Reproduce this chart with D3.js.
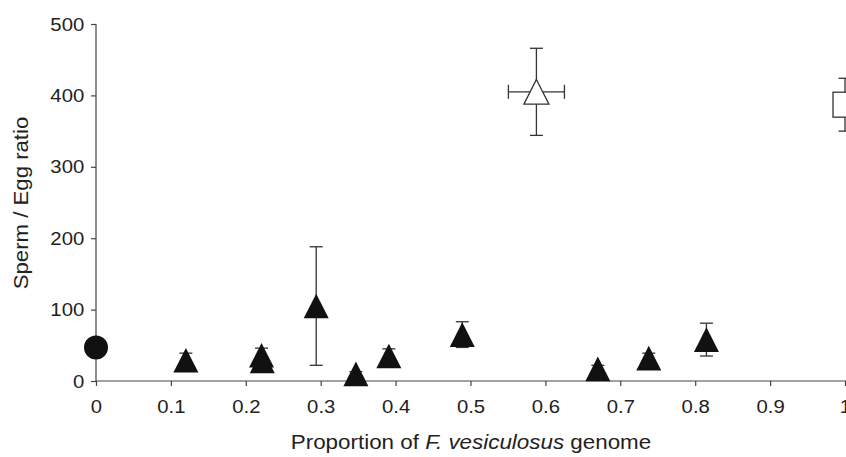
<!DOCTYPE html>
<html>
<head>
<meta charset="utf-8">
<script src="https://cdn.jsdelivr.net/npm/d3@7"></script>
<style>
  html, body { margin: 0; padding: 0; background: #fff; }
  svg { display: block; font-family: "Liberation Sans", Arial, sans-serif; }
</style>
</head>
<body>
<svg id="chart" width="846" height="457"></svg>
<script>
// Data
const xVals   = [0, 0.12, 0.221, 0.222, 0.294, 0.347, 0.391, 0.489, 0.588, 0.670, 0.738, 0.815, 1.0];
const yVals   = [47, 29, 36, 28, 105, 10, 35, 65, 405, 17, 32, 58, 387];
const yErrs   = [0, 10, 10, 0, 83, 3, 10, 18, 61, 5, 7, 23, 37];
const xErrs   = [0, 0, 0, 0, 0, 0, 0, 0, 0.0374, 0, 0, 0, 0];
const markers = ["circle", "tri", "tri", "tri", "tri", "tri", "tri", "tri", "openTri", "tri", "tri", "tri", "square"];
const xTicks  = [0, 0.1, 0.2, 0.3, 0.4, 0.5, 0.6, 0.7, 0.8, 0.9, 1];
const yTicks  = [0, 100, 200, 300, 400, 500];

const svg = d3.select("#chart");
const x = d3.scaleLinear().domain([0, 1]).range([96, 845]);
const y = d3.scaleLinear().domain([0, 500]).range([381, 24]);
const axisColor = "#444";
const textColor = "#222";

// X axis
const gx = svg.append("g").attr("transform", `translate(0,${y(0)})`)
  .call(d3.axisBottom(x).tickValues(xTicks).tickSize(5).tickPadding(14)
    .tickFormat(d => String(+d.toFixed(1))));
gx.select(".domain").attr("stroke", axisColor).attr("stroke-width", 1.2)
  .attr("d", `M${x(0)},0H846`);
gx.selectAll(".tick line").attr("stroke", axisColor).attr("stroke-width", 1.2);
gx.selectAll(".tick text").attr("fill", textColor).attr("font-size", 19)
  .attr("transform", "scale(1.07,1)");

// Y axis
const gy = svg.append("g").attr("transform", `translate(${x(0)},0)`)
  .call(d3.axisLeft(y).tickValues(yTicks).tickSize(5).tickPadding(6));
gy.select(".domain").attr("stroke", axisColor).attr("stroke-width", 1.2)
  .attr("d", `M0,${y(500)}V${y(0)}`);
gy.selectAll(".tick line").attr("stroke", axisColor).attr("stroke-width", 1.2);
gy.selectAll(".tick text").attr("fill", textColor).attr("font-size", 19)
  .attr("transform", "scale(1.07,1)");

// Axis titles
const xt = svg.append("text")
  .attr("transform", "translate(471,449) scale(1.12,1)")
  .attr("text-anchor", "middle").attr("font-size", 20).attr("fill", textColor);
xt.append("tspan").text("Proportion of ");
xt.append("tspan").attr("font-style", "italic").text("F. vesiculosus");
xt.append("tspan").text(" genome");

svg.append("text")
  .attr("transform", "translate(28,203) rotate(-90) scale(1.11,1)")
  .attr("text-anchor", "middle").attr("font-size", 20).attr("fill", textColor)
  .text("Sperm / Egg ratio");

const pts = xVals.map((v, i) => ({ x: v, y: yVals[i], ye: yErrs[i], xe: xErrs[i], m: markers[i] }));
const cap = 6.5;
const errG = svg.append("g").attr("stroke", "#333").attr("stroke-width", 1.3).attr("fill", "none");

pts.forEach(p => {
  const cx = x(p.x), cy = y(p.y);
  if (p.ye > 0) {
    const t = y(p.y + p.ye), b = y(p.y - p.ye);
    errG.append("line").attr("x1", cx).attr("x2", cx).attr("y1", t).attr("y2", b);
    errG.append("line").attr("x1", cx - cap).attr("x2", cx + cap).attr("y1", t).attr("y2", t);
    errG.append("line").attr("x1", cx - cap).attr("x2", cx + cap).attr("y1", b).attr("y2", b);
  }
  if (p.xe > 0) {
    const l = x(p.x - p.xe), r = x(p.x + p.xe);
    errG.append("line").attr("x1", l).attr("x2", r).attr("y1", cy).attr("y2", cy);
    errG.append("line").attr("x1", l).attr("x2", l).attr("y1", cy - 7).attr("y2", cy + 7);
    errG.append("line").attr("x1", r).attr("x2", r).attr("y1", cy - 7).attr("y2", cy + 7);
  }
});

const markG = svg.append("g");
const triPath = (cx, cy) => `M${cx},${cy - 12.3}L${cx + 12.5},${cy + 12.3}L${cx - 12.5},${cy + 12.3}Z`;
pts.forEach(p => {
  const cx = x(p.x), cy = y(p.y);
  if (p.m === "circle") {
    markG.append("circle").attr("cx", cx).attr("cy", cy).attr("r", 12).attr("fill", "#111");
  } else if (p.m === "tri") {
    markG.append("path").attr("d", triPath(cx, cy)).attr("fill", "#111");
  } else if (p.m === "openTri") {
    markG.append("path").attr("d", triPath(cx, cy)).attr("fill", "#fff")
      .attr("stroke", "#333").attr("stroke-width", 1.3);
  } else if (p.m === "square") {
    markG.append("rect").attr("x", cx - 12).attr("y", cy - 12.5).attr("width", 24).attr("height", 25)
      .attr("fill", "#fff").attr("stroke", "#333").attr("stroke-width", 1.3);
  }
});
</script>
</body>
</html>
